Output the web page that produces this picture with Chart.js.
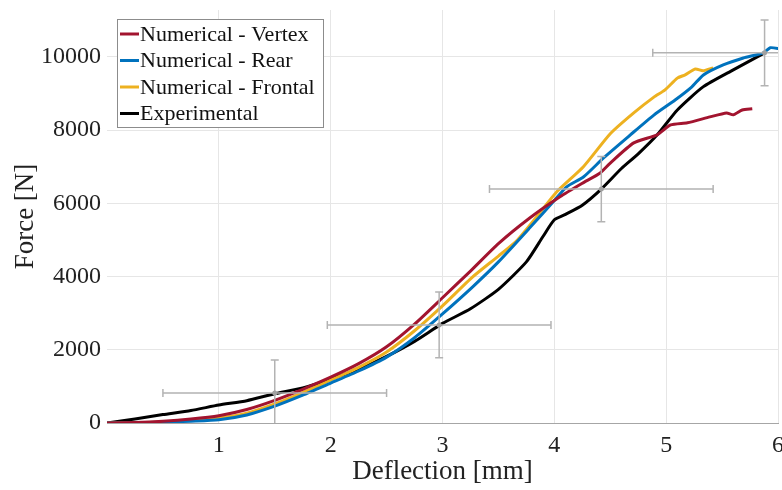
<!DOCTYPE html>
<html>
<head>
<meta charset="utf-8">
<script src="https://cdn.jsdelivr.net/npm/chart.js@4"></script>
<style>
  html, body { margin: 0; padding: 0; background: #fff; }
  #wrap { width: 782px; height: 490px; position: relative; }
</style>
</head>
<body>
<div id="wrap"><canvas id="forceChart"></canvas></div>
<script>
// values (deflection in mm, force in N)
const vertexX = [0, 0.25, 0.5, 0.75, 1.0, 1.25, 1.5, 1.75, 2.0, 2.25, 2.5, 2.75, 3.0, 3.25, 3.5, 3.78, 4.05, 4.25, 4.41, 4.5, 4.71, 4.92, 5.04, 5.19, 5.39, 5.54, 5.6, 5.68, 5.77];
const vertexY = [0, 15, 50, 110, 200, 370, 620, 920, 1250, 1620, 2080, 2700, 3420, 4150, 4900, 5600, 6180, 6550, 6830, 7100, 7650, 7870, 8140, 8200, 8360, 8470, 8420, 8550, 8580];

const rearX = [0, 0.25, 0.5, 0.75, 1.0, 1.25, 1.5, 1.75, 2.0, 2.25, 2.5, 2.75, 3.0, 3.27, 3.5, 3.78, 4.0, 4.11, 4.26, 4.44, 4.68, 4.89, 5.08, 5.23, 5.33, 5.51, 5.69, 5.87, 5.93, 6.02];
const rearY = [0, 5, 20, 50, 90, 220, 460, 760, 1090, 1420, 1800, 2330, 2980, 3720, 4400, 5330, 6080, 6450, 6720, 7240, 7870, 8410, 8820, 9180, 9500, 9780, 9970, 10110, 10250, 10220];

const frontalX = [0, 0.25, 0.5, 0.75, 1.0, 1.25, 1.5, 1.75, 2.0, 2.25, 2.5, 2.75, 3.0, 3.27, 3.5, 3.67, 3.87, 4.02, 4.26, 4.5, 4.71, 4.89, 4.99, 5.1, 5.17, 5.26, 5.33, 5.42];
const frontalY = [0, 10, 30, 75, 140, 270, 520, 830, 1170, 1520, 1940, 2520, 3200, 3990, 4560, 5000, 5740, 6310, 7000, 7900, 8470, 8900, 9100, 9420, 9510, 9670, 9620, 9700];

const expX = [0, 0.25, 0.5, 0.75, 1.0, 1.25, 1.5, 1.75, 2.0, 2.25, 2.5, 2.75, 3.0, 3.25, 3.5, 3.75, 3.9, 4.0, 4.1, 4.25, 4.42, 4.6, 4.75, 4.92, 5.1, 5.33, 5.6, 5.88];
const expY = [0, 110, 230, 340, 490, 610, 800, 960, 1200, 1470, 1820, 2230, 2720, 3120, 3650, 4400, 5100, 5550, 5700, 5950, 6390, 6950, 7350, 7870, 8550, 9180, 9645, 10110];

// experimental error bars: centre and half widths
const errCx = [1.5, 2.97, 4.42, 5.88];
const errCy = [820, 2680, 6390, 10110];
const errDx = [1, 1, 1, 1];
const errDy = [900, 900, 890, 900];

const xTicks = [1, 2, 3, 4, 5, 6];
const yTicks = [0, 2000, 4000, 6000, 8000, 10000];

const seriesNames = ['Numerical - Vertex', 'Numerical - Rear', 'Numerical - Frontal', 'Experimental'];
const seriesColors = ['#a2142f', '#0072bd', '#edb120', '#000000'];

const serif = "'Liberation Serif', 'DejaVu Serif', serif";

function toPoints(xs, ys) {
    return xs.map((x, i) => ({ x: x, y: ys[i] }));
}

const errorBars = {
    id: 'errorBars',
    afterDatasetsDraw(chart) {
        const { ctx, chartArea, scales } = chart;
        const xs = scales.x, ys = scales.y;
        ctx.save();
        ctx.beginPath();
        ctx.rect(chartArea.left, chartArea.top, chartArea.right - chartArea.left, chartArea.bottom - chartArea.top);
        ctx.clip();
        ctx.strokeStyle = '#b3b3b3';
        ctx.lineWidth = 1.5;
        const cap = 4;
        errCx.forEach((cx, i) => {
            const px = xs.getPixelForValue(cx);
            const py = ys.getPixelForValue(errCy[i]);
            const x0 = xs.getPixelForValue(cx - errDx[i]);
            const x1 = xs.getPixelForValue(cx + errDx[i]);
            const y0 = ys.getPixelForValue(errCy[i] - errDy[i]);
            const y1 = ys.getPixelForValue(errCy[i] + errDy[i]);
            ctx.beginPath();
            ctx.moveTo(x0, py); ctx.lineTo(x1, py);
            ctx.moveTo(x0, py - cap); ctx.lineTo(x0, py + cap);
            ctx.moveTo(x1, py - cap); ctx.lineTo(x1, py + cap);
            ctx.moveTo(px, y0); ctx.lineTo(px, y1);
            ctx.moveTo(px - cap, y0); ctx.lineTo(px + cap, y0);
            ctx.moveTo(px - cap, y1); ctx.lineTo(px + cap, y1);
            ctx.stroke();
            ctx.fillStyle = '#a0a0a0';
            ctx.beginPath();
            ctx.arc(px, py, 2.5, 0, Math.PI * 2);
            ctx.fill();
        });
        ctx.restore();
    }
};

// legend boxed inside the plot, top left
const boxLegend = {
    id: 'boxLegend',
    afterDraw(chart) {
        const { ctx, chartArea } = chart;
        const left = chartArea.left + 10, top = chartArea.top + 9;
        const w = 206, h = 108, rowH = 26.5;
        ctx.save();
        ctx.fillStyle = '#fff';
        ctx.fillRect(left, top, w, h);
        ctx.strokeStyle = '#8c8c8c';
        ctx.lineWidth = 1;
        ctx.strokeRect(left + 0.5, top + 0.5, w, h);
        ctx.font = '22px ' + serif;
        ctx.textBaseline = 'middle';
        seriesNames.forEach((name, i) => {
            const y = top + 15 + i * rowH;
            ctx.strokeStyle = seriesColors[i];
            ctx.lineWidth = 3;
            ctx.beginPath();
            ctx.moveTo(left + 3, y);
            ctx.lineTo(left + 22, y);
            ctx.stroke();
            ctx.fillStyle = '#111';
            ctx.fillText(name, left + 23, y + 1);
        });
        ctx.restore();
    }
};

const datasets = [
    toPoints(vertexX, vertexY),
    toPoints(rearX, rearY),
    toPoints(frontalX, frontalY),
    toPoints(expX, expY)
].map((pts, i) => ({
    label: seriesNames[i],
    data: pts,
    borderColor: seriesColors[i],
    borderWidth: 3,
    pointRadius: 0,
    tension: 0.2,
    fill: false
}));

new Chart(document.getElementById('forceChart'), {
    type: 'line',
    data: { datasets: datasets },
    options: {
        responsive: true,
        maintainAspectRatio: false,
        animation: false,
        layout: { padding: { left: 0, right: 4, top: 10, bottom: 0 } },
        plugins: {
            legend: { display: false },
            tooltip: { enabled: false }
        },
        scales: {
            x: {
                type: 'linear',
                min: 0,
                max: 6,
                afterBuildTicks: s => { s.ticks = xTicks.map(v => ({ value: v })); },
                afterFit: s => { s.height = 67; s.paddingLeft = 0; s.paddingRight = 0; },
                grid: { color: '#e6e6e6', drawTicks: false },
                border: { color: '#a6a6a6' },
                ticks: {
                    padding: 8,
                    color: '#222',
                    font: { family: serif, size: 24 },
                    callback: v => String(v)
                },
                title: {
                    display: true,
                    text: 'Deflection [mm]',
                    color: '#222',
                    padding: { top: 0, bottom: 2 },
                    font: { family: serif, size: 27 }
                }
            },
            y: {
                type: 'linear',
                min: 0,
                max: 11280,
                afterBuildTicks: s => { s.ticks = yTicks.map(v => ({ value: v })); },
                afterFit: s => { s.width = 107; s.paddingTop = 0; s.paddingBottom = 0; },
                grid: { color: '#e6e6e6', drawTicks: false },
                border: { display: false },
                ticks: {
                    padding: 6,
                    color: '#222',
                    font: { family: serif, size: 24 },
                    callback: v => String(v)
                },
                title: {
                    display: true,
                    text: 'Force [N]',
                    color: '#222',
                    padding: { top: 10, bottom: 4 },
                    font: { family: serif, size: 27 }
                }
            }
        }
    },
    plugins: [errorBars, boxLegend]
});
</script>
</body>
</html>
